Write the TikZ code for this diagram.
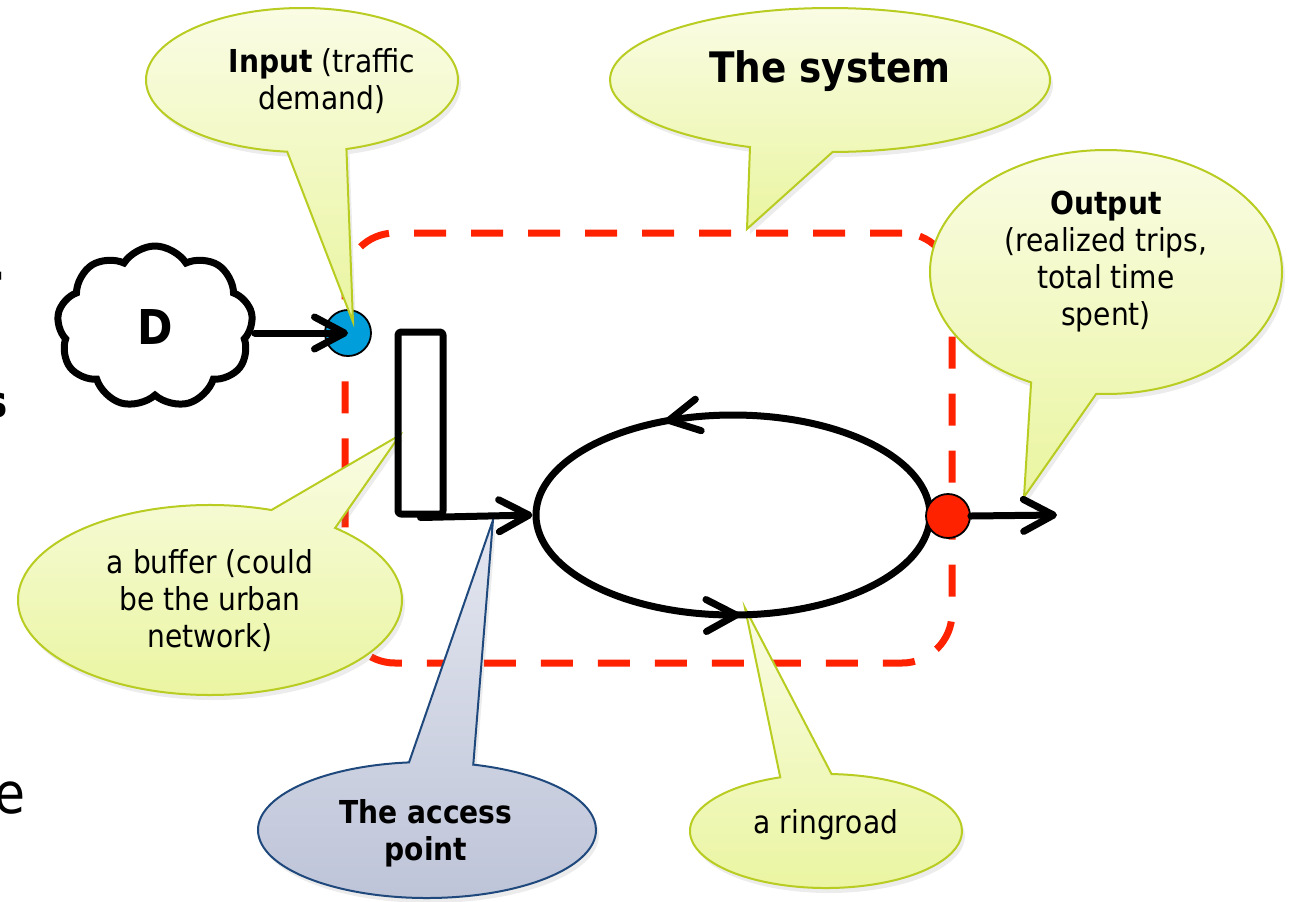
\documentclass[tikz,border=0pt]{standalone}
\usepackage{fontspec}
\setmainfont{DejaVu Sans}[FakeStretch=0.89]
\usetikzlibrary{shapes.callouts,shapes.symbols,shapes.geometric,arrows.meta,decorations.markings,shadows}

\definecolor{dashred}{RGB}{255,34,0}
\definecolor{inblue}{RGB}{0,158,219}
\definecolor{bubbletop}{RGB}{250,252,228}
\definecolor{bubblebot}{RGB}{234,245,160}
\definecolor{bubbleline}{RGB}{184,204,34}
\definecolor{greytop}{RGB}{228,231,240}
\definecolor{greybot}{RGB}{190,196,216}
\definecolor{greyline}{RGB}{31,73,125}

\begin{document}
\begin{tikzpicture}[x=0.5pt,y=0.5pt,
  bubble/.style={ellipse callout, inner sep=0pt, callout pointer arc=22,
    draw=bubbleline, line width=1pt, top color=bubbletop, bottom color=bubblebot,
    drop shadow={shadow xshift=1.5pt, shadow yshift=-2.5pt, opacity=0.15}},
  greybubble/.style={bubble, draw=greyline, top color=greytop, bottom color=greybot},
  bubbletext/.style={align=center, inner sep=0pt, font=\fontsize{15.8}{18.5}\selectfont},
  boldtext/.style={align=center, inner sep=0pt, font=\bfseries\fontsize{15.8}{18.5}\selectfont},
  road/.style={line width=3.5pt, line cap=round, line join=round},
  barb/.tip={Straight Barb[length=15pt,width=16pt,round]},
  arr/.style={road, -barb},
  dot/.style={circle, draw, line width=0.9pt, inner sep=0pt},
]
\useasboundingbox (0,0) rectangle (1291,-901);

% cut-off letters at the left edge
\node[anchor=base east, inner sep=0pt, font=\bfseries\fontsize{28.3}{30}\selectfont] (fragA) at (5,-292) {-};
\node[anchor=base east, inner sep=0pt, font=\bfseries\fontsize{22}{26}\selectfont] (fragB) at (8,-417) {s};
\node[anchor=base east, inner sep=0pt, font=\fontsize{28.3}{30}\selectfont] (fragC) at (26,-813) {e};

% system boundary
\node[draw=dashred, line width=3.5pt, dash pattern=on 16pt off 12.5pt,
      rounded corners=25pt, minimum width=303.5pt, minimum height=215pt, inner sep=0pt]
      (sysbox) at (648.5,-448) {};

% entry point
\node[dot, fill=inblue, minimum size=23pt] (in) at (348,-333) {};

% speech bubbles
\node[bubble, minimum width=156pt, minimum height=72pt,
      callout absolute pointer={(353,-322)}] (inputB) at (302,-80) {};
\node[bubbletext] (inputT) at (322,-81) {\textbf{Input} (traffic\\demand)};

\node[bubble, minimum width=220pt, minimum height=72pt,
      callout absolute pointer={(747,-229)}] (systemB) at (830,-80) {};
\node[inner sep=0pt, font=\bfseries\fontsize{21}{25}\selectfont] (systemT) at (830,-71) {The system};

\node[bubble, minimum width=176pt, minimum height=122pt,
      callout absolute pointer={(1024,-497)}] (outputB) at (1106,-272) {};
\node[bubbletext] (outputT) at (1106,-262) {\textbf{Output}\\(realized trips,\\total time\\spent)};

\node[bubble, minimum width=192pt, minimum height=95pt,
      callout absolute pointer={(400,-435)}] (bufferB) at (210,-600) {};
\node[bubbletext] (bufferT) at (210,-601) {a buffer (could\\be the urban\\network)};

\node[bubble, minimum width=136pt, minimum height=57pt,
      callout absolute pointer={(745,-608)}] (ringB) at (826,-831) {};
\node[bubbletext] (ringT) at (826,-825) {a ringroad};

\node[greybubble, minimum width=169pt, minimum height=68pt,
      callout absolute pointer={(493,-520)}] (accessB) at (427,-830) {};
\node[boldtext] (accessT) at (426,-833) {The access\\point};

% demand cloud
\node[cloud, draw, fill=white, line width=3.5pt, cloud puffs=9, cloud puff arc=115,
      aspect=1.2, minimum width=98pt, minimum height=81pt, inner sep=0pt,
      font=\bfseries\fontsize{24}{28}\selectfont] (D) at (155,-327) {D};

% buffer
\node[draw, road, rounded corners=1.5pt, minimum width=22.5pt, minimum height=91pt,
      inner sep=0pt] (buffer) at (420.5,-423) {};

% ring road
\node[ellipse, draw, line width=3.5pt, minimum width=197pt, minimum height=100pt,
      inner sep=0pt, postaction={decorate},
      decoration={markings,
        mark=at position 0.321 with {\arrow{barb}},
        mark=at position 0.757 with {\arrow{barb}}}] (ring) at (733,-515) {};

% exit point
\node[dot, fill=dashred, minimum size=22pt] (out) at (948,-516) {};
\coordinate (outend) at (1057,-515);

% flows
\draw[arr] (D.east |- in.center) -- (in.center);
\draw[arr] (buffer.south) -- (ring.west);
\draw[arr] (out.east) -- (outend);
\end{tikzpicture}
\end{document}
